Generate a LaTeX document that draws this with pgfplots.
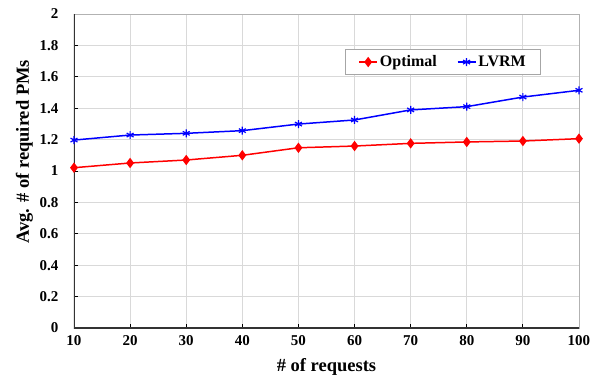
\documentclass[border=0pt]{standalone}
\usepackage{pgfplots}
\pgfplotsset{compat=1.18}
\usepackage{fontspec}
\setmainfont{Liberation Serif}
\begin{document}
\begin{tikzpicture}
\begin{axis}[
  at={(0,0)}, anchor=south west,
  scale only axis, width=505bp, height=314bp,
  xmin=10, xmax=100, ymin=0, ymax=2,
  xtick={10,20,...,100}, ytick={0,0.2,...,2},
  yticklabel style={/pgf/number format/fixed, /pgf/number format/precision=1},
  /pgf/number format/assume math mode=true,
  font=\fontsize{15bp}{17bp}\selectfont\bfseries,
  tick label style={font=\fontsize{15bp}{17bp}\selectfont\bfseries},
  label style={font=\fontsize{18.5bp}{21bp}\selectfont\bfseries},
  grid=major, major grid style={gray!30, line width=0.8pt},
  axis line style={gray!60, line width=0.8pt},
  tick align=inside, tick pos=left, major tick length=4bp,
  tick style={black, line width=0.8pt},
  xticklabel style={yshift=-4bp},
  yticklabel style={xshift=-12bp},
  xlabel={\# of requests},
  ylabel={Avg. \# of required PMs},
  xlabel style={yshift=-6bp},
  ylabel style={yshift=0bp, xshift=19bp},
  legend columns=2,
  legend style={at={(0.925,0.889)}, anchor=north east, draw=gray!70, line width=0.8pt,
    font=\fontsize{16bp}{18bp}\selectfont\bfseries, inner xsep=13bp, inner ysep=4.5bp,
    /tikz/every even column/.append style={column sep=18bp}},
  legend cell align=left,
  legend image code/.code={
    \draw[mark repeat=2,mark phase=2,#1] plot coordinates {(0bp,0bp) (9bp,0bp) (18bp,0bp)};},
]
\draw[black!80, line width=1.2pt] (rel axis cs:0,1) -- (rel axis cs:0,0) -- (rel axis cs:1,0);
\addplot[red, line width=1.5pt, mark=diamond*, mark size=4bp, mark options={fill=red}]
  coordinates {(10,1.021) (20,1.051) (30,1.070) (40,1.100) (50,1.148) (60,1.159) (70,1.176) (80,1.185) (90,1.191) (100,1.206)};
\addlegendentry{Optimal}
\addplot[blue, line width=1.5pt, mark=asterisk, mark size=4bp, mark options={line width=1.2pt}]
  coordinates {(10,1.197) (20,1.229) (30,1.240) (40,1.257) (50,1.299) (60,1.325) (70,1.389) (80,1.410) (90,1.471) (100,1.514)};
\addlegendentry{LVRM}
\end{axis}
\pgfresetboundingbox
\useasboundingbox (-74bp,-52bp) rectangle (528bp,328bp);
\end{tikzpicture}
\end{document}
